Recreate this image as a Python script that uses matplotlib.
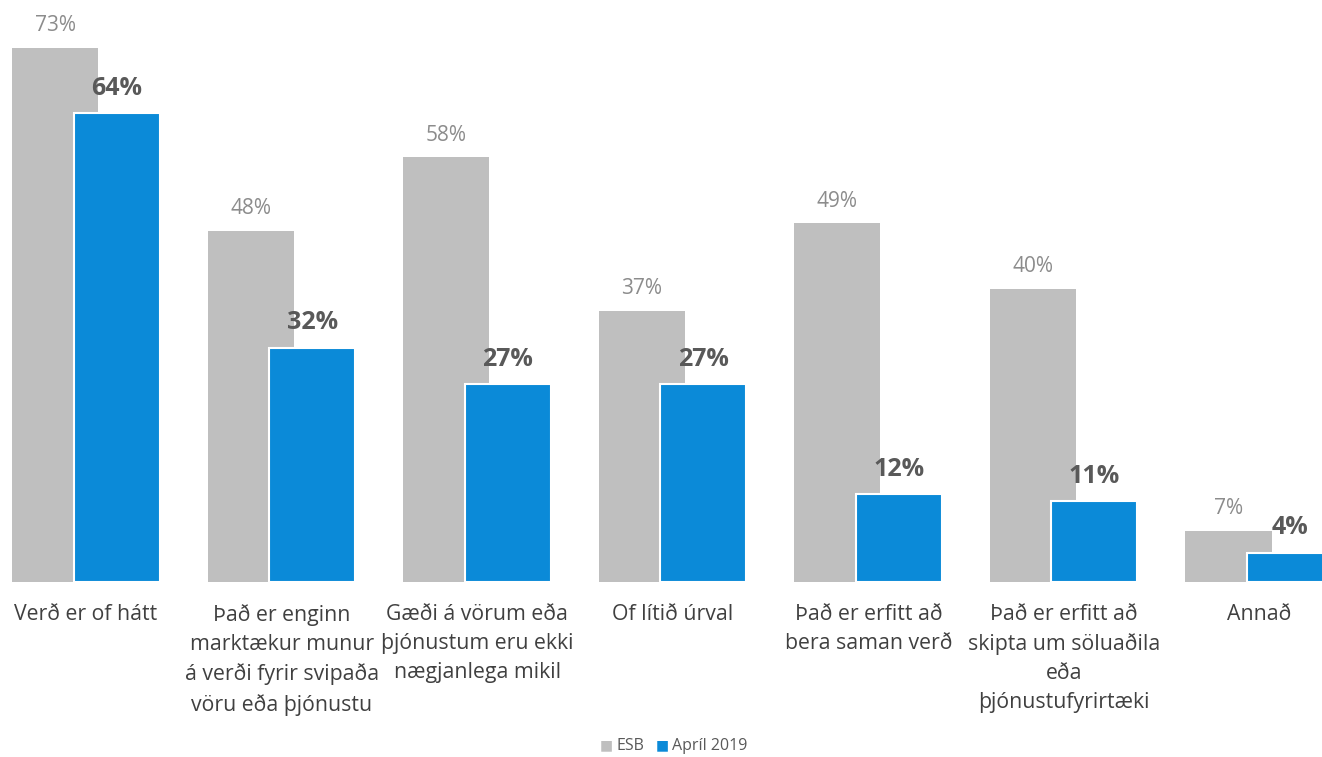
import matplotlib.pyplot as plt
import numpy as np

plt.rcParams['font.family'] = ['Open Sans', 'DejaVu Sans']

categories = [
    'Verð er of hátt',
    'Það er enginn\nmarktækur munur\ná verði fyrir svipaða\nvöru eða þjónustu',
    'Gæði á vörum eða\nþjónustum eru ekki\nnægjanlega mikil',
    'Of lítið úrval',
    'Það er erfitt að\nbera saman verð',
    'Það er erfitt að\nskipta um söluaðila\neða\nþjónustufyrirtæki',
    'Annað',
]
esb = [73, 48, 58, 37, 49, 40, 7]
april = [64, 32, 27, 27, 12, 11, 4]

grey = '#BFBFBF'
blue = '#0B8AD8'

fig = plt.figure(figsize=(13.22, 7.57), dpi=100)
ax = fig.add_axes([0, 175 / 757, 1, 582 / 757])

x = np.arange(len(categories))
w = 0.44
ax.bar(x - 0.158, esb, width=w, color=grey, zorder=1)
ax.bar(x + 0.156, april, width=w, color=blue, edgecolor='white', linewidth=1.5, zorder=2)

for xi, v in zip(x, esb):
    ax.text(xi - 0.158, v + 1.6, f'{v}%', ha='center', va='bottom',
            fontsize=15, color='#8C8C8C')
for xi, v in zip(x, april):
    ax.text(xi + 0.156, v + 1.7, f'{v}%', ha='center', va='bottom',
            fontsize=18, fontweight='bold', color='#595959')

ax.set_xlim(-0.44, 6.32)
ax.set_ylim(0, 79.5)
ax.axis('off')

for xi, lab in zip(x, categories):
    fig.text((86 + xi * 195.6) / 1322, 1 - 604 / 757, lab, ha='center', va='top',
             fontsize=15.3, color='#404040', linespacing=1.5)

# legend
fig.text(606 / 1322, 1 - 746 / 757, '■', color=grey, fontsize=10, ha='center', va='center')
fig.text(617 / 1322, 1 - 746 / 757, 'ESB', color='#595959', fontsize=11.5, ha='left', va='center')
fig.text(662 / 1322, 1 - 746 / 757, '■', color=blue, fontsize=10, ha='center', va='center')
fig.text(672 / 1322, 1 - 746 / 757, 'Apríl 2019', color='#595959', fontsize=11.5, ha='left', va='center')

fig.savefig('out.png', dpi=100)
